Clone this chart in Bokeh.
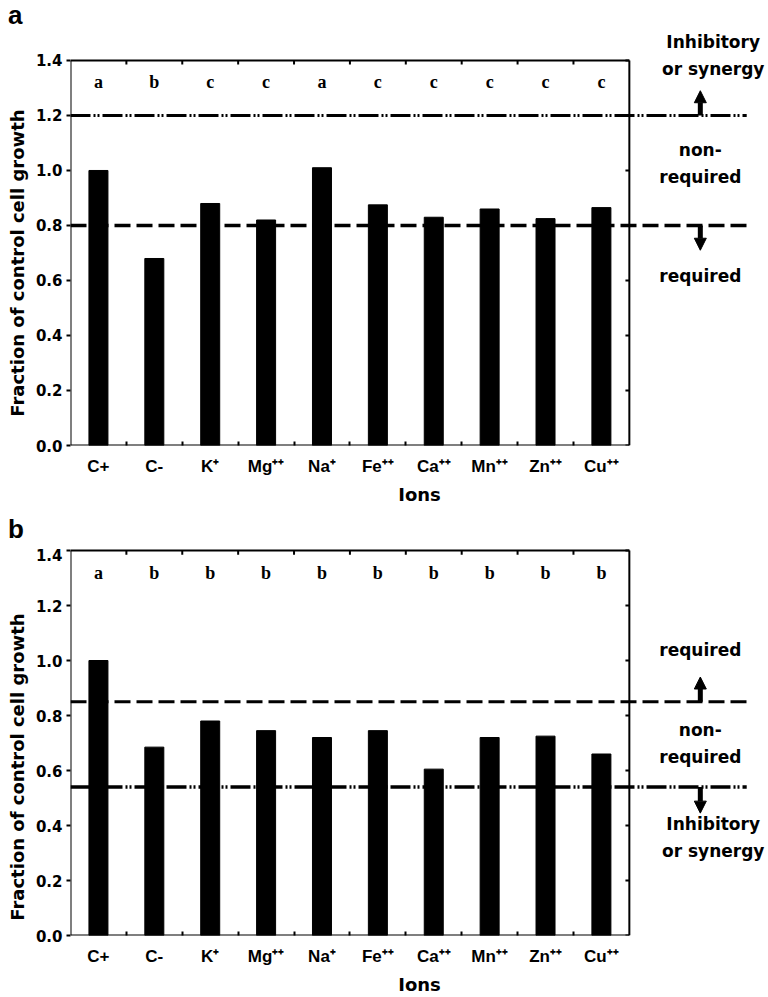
from bokeh.plotting import figure
from bokeh.layouts import column
from bokeh.models import Range1d, FixedTicker, Arrow, NormalHead, Div
from bokeh.core.properties import value
from bokeh.embed import file_html
from bokeh.resources import INLINE

# ---------------- data ----------------
ions = ["C+", "C-", "K⁺", "Mg⁺⁺", "Na⁺", "Fe⁺⁺", "Ca⁺⁺", "Mn⁺⁺", "Zn⁺⁺", "Cu⁺⁺"]
growth_a = [1.00, 0.68, 0.88, 0.82, 1.01, 0.875, 0.83, 0.86, 0.825, 0.865]
letters_a = ["a", "b", "c", "c", "a", "c", "c", "c", "c", "c"]
growth_b = [1.00, 0.685, 0.78, 0.745, 0.72, 0.745, 0.605, 0.72, 0.725, 0.66]
letters_b = ["a", "b", "b", "b", "b", "b", "b", "b", "b", "b"]
y_ticks = [0.0, 0.2, 0.4, 0.6, 0.8, 1.0, 1.2, 1.4]
upper_a, lower_a = 1.2, 0.8
upper_b, lower_b = 0.85, 0.54

SANS = "DejaVu Sans"
ARIAL = "Liberation Sans"
SERIF = "Liberation Serif"
DASHDOT = "20 3 2 2 2 3"
DASHED = "16 6"
NBSP = "\u00a0" * 8


def panel(values, letters, upper, lower, upper_dash, lower_dash,
          height, bottom, y_end, notes, arrows):
    n = len(ions)
    xs = [i + 0.5 for i in range(n)]
    p = figure(width=768, height=height, x_range=Range1d(0, 12.49),
               y_range=Range1d(0, y_end), output_backend="svg",
               toolbar_location=None, min_border_left=70, min_border_right=0,
               min_border_top=0, min_border_bottom=bottom)
    p.outline_line_color = None
    p.grid.grid_line_color = None
    p.background_fill_color = "white"

    # x axis
    xa = p.xaxis[0]
    xa.ticker = FixedTicker(ticks=xs, minor_ticks=[float(i) for i in range(1, n)])
    xa.major_label_overrides = {x: lab for x, lab in zip(xs, ions)}
    xa.axis_line_color = None
    xa.major_tick_line_color = None
    xa.minor_tick_in = 4
    xa.minor_tick_out = 0
    xa.minor_tick_line_width = 2
    xa.major_label_text_font = ARIAL
    xa.major_label_text_font_style = "bold"
    xa.major_label_text_font_size = "17px"
    xa.major_label_text_color = "black"
    xa.major_label_standoff = 5
    xa.axis_label = "Ions"
    xa.axis_label_text_font = SANS
    xa.axis_label_text_font_style = "bold"
    xa.axis_label_text_font_size = "18px"
    xa.axis_label_text_color = "black"
    xa.axis_label_standoff = 5

    # y axis
    ya = p.yaxis[0]
    ya.ticker = FixedTicker(ticks=y_ticks, minor_ticks=[])
    ya.major_label_overrides = {t: f"{t:.1f}" for t in y_ticks}
    ya.axis_line_color = None
    ya.major_tick_in = 0
    ya.major_tick_out = 4
    ya.major_tick_line_width = 2
    ya.major_label_text_font = SANS
    ya.major_label_text_font_style = "bold"
    ya.major_label_text_font_size = "15px"
    ya.major_label_text_color = "black"
    ya.major_label_standoff = 4
    ya.axis_label = "Fraction of control cell growth" + NBSP
    ya.axis_label_text_font = SANS
    ya.axis_label_text_font_style = "bold"
    ya.axis_label_text_font_size = "18px"
    ya.axis_label_text_color = "black"
    ya.axis_label_standoff = 5

    ytop = y_ticks[-1]
    # plot box
    p.segment(x0=[0, 0, 0, n], y0=[0, ytop, 0, 0], x1=[n, n, 0, n], y1=[0, ytop, ytop, ytop],
              line_color="black", line_width=2)
    # inward ticks on top and right
    p.segment(x0=list(range(1, n)), y0=[ytop] * (n - 1), x1=list(range(1, n)),
              y1=[ytop - 0.015] * (n - 1), line_color="black", line_width=2)
    p.segment(x0=[n] * len(y_ticks), y0=y_ticks, x1=[n - 0.07] * len(y_ticks), y1=y_ticks,
              line_color="black", line_width=2)

    # bars
    p.vbar(x=xs, top=values, width=0.34, color="black")

    # significance letters
    p.text(x=xs, y=[1.32] * n, text=letters, text_align="center", text_baseline="middle",
           text_font=value(SERIF), text_font_style="bold", text_font_size="18px",
           text_color="black")

    # threshold lines
    p.line(x=[0, 12.1], y=[upper, upper], line_color="black", line_width=3,
           line_dash=upper_dash)
    p.line(x=[0, 12.1], y=[lower, lower], line_color="black", line_width=3.5,
           line_dash=lower_dash)

    # notes
    for txt, x, y in notes:
        p.text(x=[x], y=[y], text=[txt], text_align="center", text_baseline="middle",
               text_font=value(SANS), text_font_style="bold", text_font_size="17px",
               text_line_height=1.35, text_color="black")
    for y0, y1 in arrows:
        p.add_layout(Arrow(end=NormalHead(size=12, fill_color="black", line_color="black"),
                           x_start=11.27, y_start=y0, x_end=11.27, y_end=y1,
                           line_color="black", line_width=5))
    return p


def tag(letter, height):
    return Div(text=letter, width=768, height=height, margin=0,
               styles={"font-family": ARIAL, "font-weight": "bold", "font-size": "26px",
                       "line-height": f"{height}px", "padding-left": "8px",
                       "color": "black"})


pa = panel(growth_a, letters_a, upper_a, lower_a, DASHDOT, DASHED,
           480, 65, 1.509,
           [("Inhibitory\nor synergy", 11.5, 1.418),
            ("non-\nrequired", 11.27, 1.025),
            ("required", 11.27, 0.618)],
           [(upper_a, upper_a + 0.09), (lower_a, lower_a - 0.09)])

pb = panel(growth_b, letters_b, upper_b, lower_b, DASHED, DASHDOT,
           449, 61, 1.4073,
           [("required", 11.27, 1.037),
            ("non-\nrequired", 11.27, 0.70),
            ("Inhibitory\nor synergy", 11.5, 0.357)],
           [(upper_b, upper_b + 0.09), (lower_b, lower_b - 0.095)])

layout = column(tag("a", 30), pa, tag("b", 38), pb, spacing=0)
open("out.html", "w").write(file_html(layout, INLINE))
